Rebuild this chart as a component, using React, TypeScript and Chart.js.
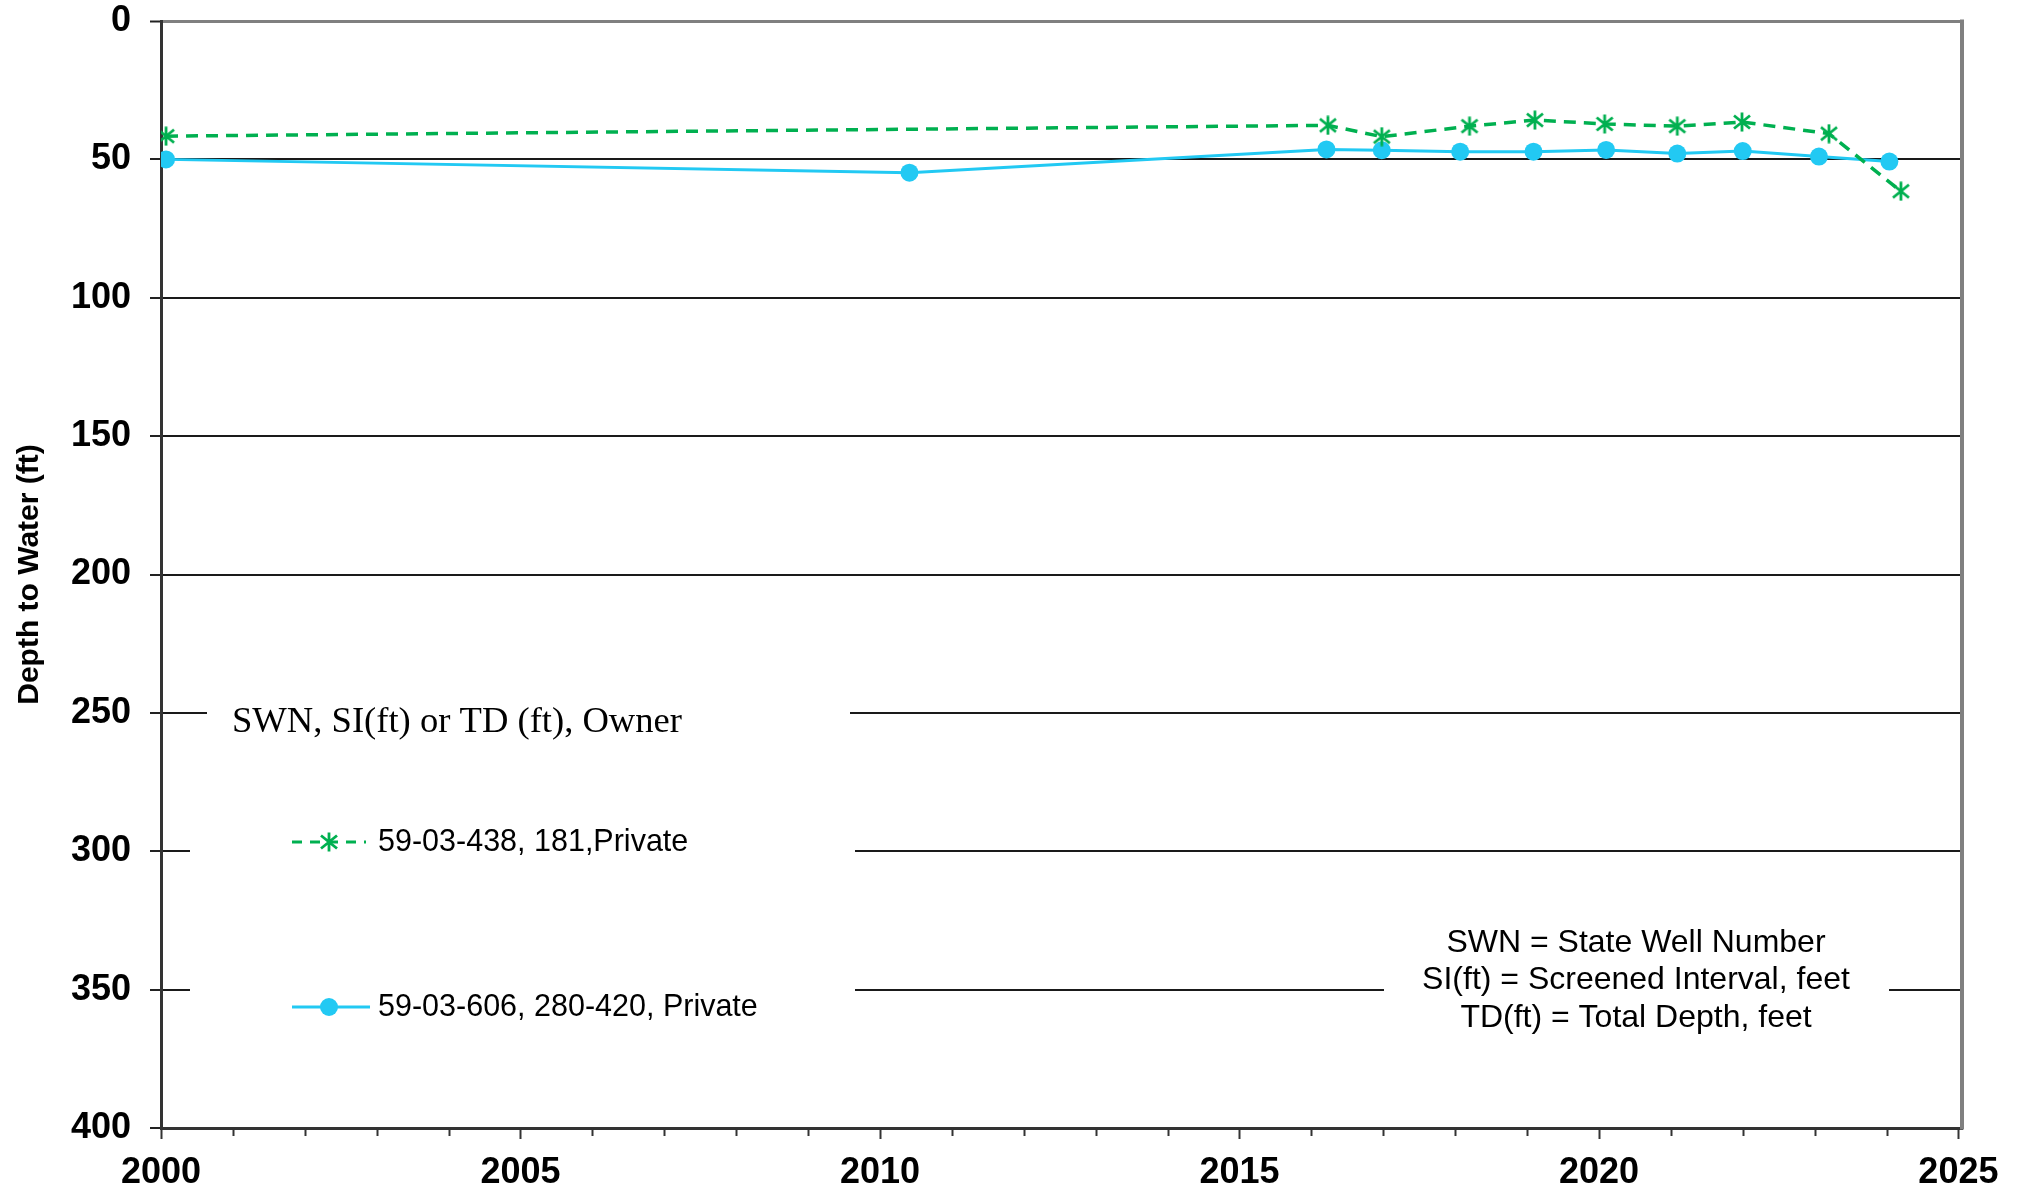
import React, { useEffect, useRef } from 'react';
import { Chart, registerables } from 'chart.js';

Chart.register(...registerables);

// ---- data ----
const wellAYears = [2000.07, 2016.23, 2016.98, 2018.2, 2019.11, 2020.08, 2021.09, 2021.99, 2023.2, 2024.2];
const wellADepth = [41.6, 37.7, 41.8, 38.0, 35.8, 37.2, 38.0, 36.5, 40.7, 61.5];
const wellBYears = [2000.07, 2010.41, 2016.21, 2016.98, 2018.07, 2019.09, 2020.1, 2021.09, 2022.0, 2023.06, 2024.04];
const wellBDepth = [50.0, 54.8, 46.4, 46.7, 47.2, 47.2, 46.6, 47.9, 47.0, 49.0, 50.8];

const wellALabel = '59-03-438, 181,Private';
const wellBLabel = '59-03-606, 280-420, Private';
const legendTitle = 'SWN, SI(ft) or TD (ft), Owner';
const noteLines = ['SWN = State Well Number', 'SI(ft) = Screened Interval, feet', 'TD(ft) = Total Depth, feet'];
const yAxisTitle = 'Depth to Water (ft)';

const xMin = 2000;
const xMax = 2025.05;
const xStep = 1;
const xLabelEvery = 5;
const yMin = 0;
const yMax = 400;
const yStep = 50;

const GREEN = '#00b050';
const CYAN = '#22c9f3';
const SANS = '"Liberation Sans", Arial, sans-serif';
const SERIF = '"Liberation Serif", "Times New Roman", serif';

function makeAsterisk(size: number, color: string): HTMLCanvasElement {
  const c = document.createElement('canvas');
  c.width = size;
  c.height = size;
  const g = c.getContext('2d')!;
  g.strokeStyle = color;
  g.lineWidth = 2.8;
  g.lineCap = 'butt';
  const m = size / 2;
  g.beginPath();
  g.moveTo(m, 0.5);
  g.lineTo(m, size - 0.5);
  g.moveTo(2, 3.5);
  g.lineTo(size - 2, size - 3.5);
  g.moveTo(2, size - 3.5);
  g.lineTo(size - 2, 3.5);
  g.stroke();
  return c;
}

export default function App() {
  const ref = useRef<HTMLCanvasElement | null>(null);

  useEffect(() => {
    const canvas = ref.current;
    if (!canvas) return;
    const star = makeAsterisk(20, GREEN);

    const decor = {
      id: 'decor',
      beforeDatasetsDraw(chart: any) {
        const ctx = chart.ctx;
        ctx.save();
        ctx.fillStyle = '#ffffff';
        ctx.fillRect(207, 690, 643, 46);
        ctx.fillRect(190, 790, 665, 240);
        ctx.fillRect(1384, 905, 505, 140);
        ctx.restore();
      },
      afterDraw(chart: any) {
        const ctx = chart.ctx;
        const area = chart.chartArea;
        const xs = chart.scales.x;
        ctx.save();
        // x tick marks (major and minor)
        ctx.strokeStyle = '#333333';
        ctx.lineWidth = 2;
        for (const t of xs.ticks) {
          const px = Math.round(xs.getPixelForValue(t.value)) + 0.5;
          const len = Math.round(t.value) % xLabelEvery === 0 ? 11 : 8;
          ctx.beginPath();
          ctx.moveTo(px, area.bottom);
          ctx.lineTo(px, area.bottom + len);
          ctx.stroke();
        }
        // right frame
        ctx.strokeStyle = '#808080';
        ctx.lineWidth = 4;
        ctx.beginPath();
        ctx.moveTo(area.right, area.top - 1.5);
        ctx.lineTo(area.right, area.bottom + 1.5);
        ctx.stroke();

        // legend
        ctx.fillStyle = '#000000';
        ctx.textBaseline = 'middle';
        ctx.textAlign = 'left';
        ctx.font = `36.6px ${SERIF}`;
        ctx.fillText(legendTitle, 232, 722);

        // green sample
        ctx.strokeStyle = GREEN;
        ctx.lineWidth = 3;
        ctx.setLineDash([10, 8]);
        ctx.beginPath();
        ctx.moveTo(292, 842);
        ctx.lineTo(366, 842);
        ctx.stroke();
        ctx.setLineDash([]);
        ctx.drawImage(star, 329 - 10, 842 - 10);
        // blue sample
        ctx.strokeStyle = CYAN;
        ctx.lineWidth = 3;
        ctx.beginPath();
        ctx.moveTo(292, 1007);
        ctx.lineTo(370, 1007);
        ctx.stroke();
        ctx.fillStyle = CYAN;
        ctx.beginPath();
        ctx.arc(329, 1007, 9, 0, Math.PI * 2);
        ctx.fill();

        ctx.fillStyle = '#000000';
        ctx.font = `30.5px ${SANS}`;
        ctx.fillText(wellALabel, 378, 843);
        ctx.fillText(wellBLabel, 378, 1008);

        // note
        ctx.textAlign = 'center';
        ctx.font = `32px ${SANS}`;
        noteLines.forEach((s, i) => ctx.fillText(s, 1636, 943 + i * 37.5));
        ctx.restore();
      },
    };

    const chart = new Chart(canvas, {
      type: 'line',
      data: {
        datasets: [
          {
            label: wellALabel,
            data: wellAYears.map((x, i) => ({ x, y: wellADepth[i] })),
            borderColor: GREEN,
            backgroundColor: GREEN,
            borderWidth: 3.5,
            borderDash: [12, 8],
            pointStyle: star as any,
            pointRadius: 10,
            tension: 0,
          },
          {
            label: wellBLabel,
            data: wellBYears.map((x, i) => ({ x, y: wellBDepth[i] })),
            borderColor: CYAN,
            backgroundColor: CYAN,
            borderWidth: 3,
            pointStyle: 'circle',
            pointRadius: 9,
            pointBorderWidth: 0,
            tension: 0,
          },
        ],
      },
      options: {
        responsive: false,
        animation: false,
        devicePixelRatio: 1,
        layout: { padding: { top: 0, right: 62, left: 0, bottom: 0 } },
        plugins: {
          legend: { display: false },
          tooltip: { enabled: false },
        },
        scales: {
          x: {
            type: 'linear',
            min: xMin,
            max: xMax,
            afterFit: (s: any) => {
              s.height = 61;
            },
            ticks: {
              stepSize: xStep,
              includeBounds: false,
              autoSkip: false,
              maxRotation: 0,
              padding: 23,
              color: '#000000',
              font: { family: SANS, size: 36, weight: 'bold' },
              callback: (v: any) => (Math.round(v) % xLabelEvery === 0 ? String(Math.round(v)) : ''),
            },
            grid: { display: true, drawOnChartArea: false, drawTicks: false },
            border: { display: true, color: '#333333', width: 3 },
          },
          y: {
            type: 'linear',
            reverse: true,
            min: yMin,
            max: yMax,
            afterFit: (s: any) => {
              s.width = 161;
              s.paddingTop = 21;
              s.paddingBottom = 0;
            },
            ticks: {
              stepSize: yStep,
              padding: 19,
              color: '#000000',
              font: { family: SANS, size: 36, weight: 'bold' },
            },
            grid: {
              color: (c: any) => (c.tick && c.tick.value === 0 ? '#808080' : '#1a1a1a'),
              lineWidth: (c: any) => (c.tick && c.tick.value === 0 ? 3 : 2),
              tickColor: '#222222',
              tickWidth: 2,
              tickLength: 11,
              drawTicks: true,
            },
            border: { display: true, color: '#333333', width: 3 },
            title: {
              display: true,
              text: yAxisTitle,
              color: '#000000',
              font: { family: SANS, size: 30, weight: 'bold' },
              padding: { top: 12, bottom: 0 },
            },
          },
        },
      },
      plugins: [decor],
    });

    return () => chart.destroy();
  }, []);

  return (
    <div style={{ position: 'absolute', left: 0, top: 0, width: 2024, height: 1189, background: '#ffffff' }}>
      <canvas ref={ref} width={2024} height={1189} style={{ display: 'block' }} />
    </div>
  );
}
